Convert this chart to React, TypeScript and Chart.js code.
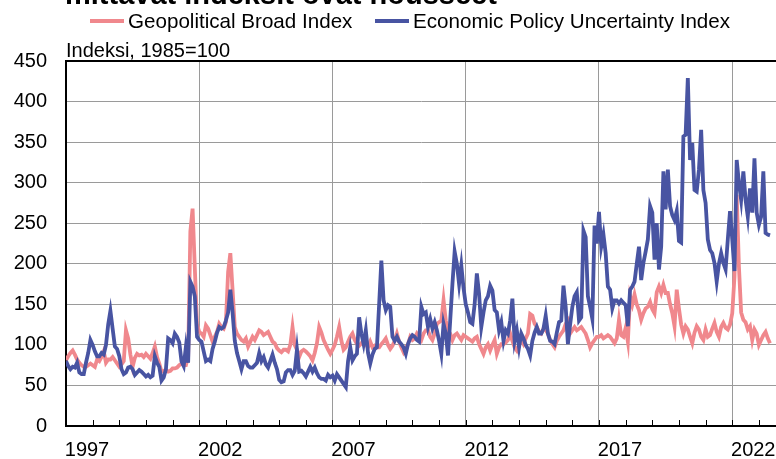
import React, { useEffect, useRef } from "react";
import { Chart, registerables } from "chart.js";

Chart.register(...registerables);

// ---------- data ----------
const START_YEAR = 1997; // monthly series, first point = Jan 1997
const X_TICK_YEARS = [1997, 2002, 2007, 2012, 2017, 2022];
const Y_TICKS = [0, 50, 100, 150, 200, 250, 300, 350, 400, 450];
const SERIES_LABELS = ["Geopolitical Broad Index", "Economic Policy Uncertainty Index"];
const TITLE = "mittavat indeksit ovat nousseet";
const Y_UNIT = "Indeksi, 1985=100";

// Geopolitical Risk (broad) index, monthly
const GPR_BROAD = [
  81, 86, 90, 93, 88, 82, 78, 75, 73, 73, 75, 77, // 1997
  75, 73, 82, 80, 85, 92, 78, 82, 82, 85, 81, 77, // 1998
  73, 76, 80, 118, 108, 88, 73, 84, 89, 87, 88, 85, // 1999
  89, 86, 83, 90, 98, 85, 77, 67, 68, 69, 67, 68, // 2000
  71, 71, 72, 75, 77, 75, 75, 85, 240, 268, 195, 125, // 2001
  116, 114, 110, 124, 120, 112, 104, 110, 116, 126, 122, 120, // 2002
  128, 190, 213, 168, 122, 114, 110, 106, 104, 108, 98, 104, // 2003
  110, 106, 112, 118, 116, 112, 114, 116, 110, 104, 102, 96, // 2004
  93, 91, 94, 94, 92, 100, 122, 100, 94, 85, 92, 94, // 2005
  92, 89, 86, 81, 90, 102, 122, 115, 106, 100, 94, 89, // 2006
  94, 100, 110, 122, 105, 94, 97, 104, 110, 114, 106, 101, // 2007
  99, 102, 106, 100, 97, 104, 97, 99, 97, 97, 101, 104, // 2008
  108, 100, 95, 99, 105, 114, 104, 97, 91, 96, 101, 110, // 2009
  106, 108, 114, 110, 106, 114, 118, 118, 110, 106, 114, 126, // 2010
  128, 130, 155, 130, 118, 114, 106, 112, 114, 110, 106, 112, // 2011
  110, 108, 106, 104, 108, 110, 101, 95, 89, 97, 101, 93, // 2012
  100, 106, 89, 97, 101, 101, 103, 106, 114, 105, 97, 93, // 2013
  100, 106, 101, 108, 114, 138, 136, 126, 122, 116, 114, 120, // 2014
  118, 114, 106, 101, 97, 105, 110, 114, 118, 126, 130, 114, // 2015
  118, 122, 118, 120, 122, 118, 114, 106, 97, 102, 106, 110, // 2016
  110, 112, 108, 110, 112, 110, 106, 102, 108, 131, 112, 110, // 2017
  121, 104, 160, 150, 162, 150, 143, 131, 139, 145, 147, 153, // 2018
  144, 139, 165, 172, 164, 174, 164, 164, 150, 139, 123, 168, // 2019
  145, 125, 114, 123, 119, 110, 102, 115, 123, 119, 110, 106, // 2020
  119, 110, 112, 120, 127, 116, 110, 122, 127, 121, 119, 125, // 2021
  139, 184, 285, 197, 140, 131, 128, 119, 123, 106, 119, 114, // 2022
  100, 106, 112, 116, 108, 102, // 2023
];

// Global Economic Policy Uncertainty index, monthly
const EPU = [
  80, 74, 70, 73, 72, 78, 66, 64, 64, 78, 90, 106, // 1997
  100, 92, 86, 86, 90, 88, 100, 125, 142, 120, 98, 95, // 1998
  86, 70, 64, 66, 72, 73, 70, 63, 66, 69, 67, 64, // 1999
  61, 63, 60, 62, 86, 78, 73, 56, 60, 70, 108, 106, // 2000
  102, 114, 110, 103, 80, 74, 98, 78, 178, 172, 160, 110, // 2001
  106, 104, 92, 80, 82, 80, 95, 104, 115, 122, 120, 122, // 2002
  130, 140, 168, 140, 105, 90, 80, 70, 80, 80, 74, 72, // 2003
  72, 75, 78, 90, 80, 85, 76, 72, 80, 88, 78, 70, // 2004
  57, 54, 55, 66, 69, 69, 63, 68, 94, 67, 68, 65, // 2005
  61, 67, 73, 67, 72, 65, 60, 58, 58, 56, 63, 60, // 2006
  62, 56, 64, 60, 56, 52, 48, 80, 97, 81, 86, 89, // 2007
  134, 114, 101, 118, 90, 77, 88, 95, 97, 150, 204, 155, // 2008
  143, 149, 147, 110, 105, 110, 104, 101, 97, 89, 101, 108, // 2009
  112, 110, 106, 104, 147, 138, 140, 122, 132, 120, 128, 118, // 2010
  105, 89, 126, 114, 87, 130, 175, 215, 200, 175, 198, 170, // 2011
  150, 140, 128, 126, 150, 188, 163, 122, 140, 155, 160, 173, // 2012
  167, 143, 140, 118, 128, 105, 118, 114, 130, 157, 105, 118, // 2013
  97, 114, 108, 100, 95, 87, 105, 115, 122, 114, 114, 120, // 2014
  136, 114, 105, 104, 101, 115, 128, 130, 173, 147, 101, 125, // 2015
  147, 160, 165, 130, 134, 241, 233, 160, 147, 132, 247, 225, // 2016
  264, 221, 236, 213, 172, 168, 145, 155, 155, 151, 155, 152, // 2017
  149, 123, 168, 172, 178, 200, 221, 180, 201, 215, 230, 271, // 2018
  263, 205, 250, 193, 221, 314, 267, 316, 271, 260, 254, 265, // 2019
  228, 226, 357, 359, 429, 328, 349, 291, 289, 316, 365, 291, // 2020
  275, 230, 217, 213, 201, 178, 200, 213, 201, 193, 230, 265, // 2021
  230, 191, 328, 300, 279, 314, 279, 258, 293, 263, 330, 263, // 2022
  248, 258, 314, 238, 236, 235, // 2023
];

// ---------- style ----------
const PINK = "rgb(240,136,141)";
const BLUE = "rgb(72,84,162)";
const FONT_FAMILY = "'Liberation Sans', Arial, sans-serif";
const X_MAX = 319.7; // months from Jan 1997 to right edge of plot

const toPoints = (arr: number[]) => arr.map((v, i) => ({ x: i, y: v }));

const decorPlugin = {
  id: "decor",
  beforeDatasetsDraw(chart: any) {
    const { ctx, chartArea, scales } = chart;
    const x = scales.x;
    ctx.save();
    ctx.strokeStyle = "#000";
    ctx.lineWidth = 1;
    const lastYear = START_YEAR + Math.floor(X_MAX / 12);
    for (let yr = START_YEAR + 1; yr <= lastYear; yr++) {
      const px = Math.round(x.getPixelForValue((yr - START_YEAR) * 12)) + 0.5;
      ctx.beginPath();
      ctx.moveTo(px, chartArea.bottom - 6);
      ctx.lineTo(px, chartArea.bottom);
      ctx.stroke();
    }
    ctx.restore();
  },
  afterDraw(chart: any) {
    const { ctx, chartArea } = chart;
    ctx.save();
    ctx.fillStyle = "#000";
    ctx.textBaseline = "alphabetic";
    ctx.textAlign = "left";
    // title (mostly cut off at the top edge)
    ctx.font = `bold 29px ${FONT_FAMILY}`;
    ctx.fillText(TITLE, 65, 4);
    // unit label
    ctx.font = `20px ${FONT_FAMILY}`;
    ctx.fillText(Y_UNIT, chartArea.left, 57);
    // legend
    ctx.font = `20.6px ${FONT_FAMILY}`;
    const starts = [90, 375];
    chart.data.datasets.forEach((ds: any, i: number) => {
      const x0 = starts[i];
      ctx.strokeStyle = ds.borderColor;
      ctx.lineWidth = 4;
      ctx.beginPath();
      ctx.moveTo(x0, 21);
      ctx.lineTo(x0 + 34, 21);
      ctx.stroke();
      ctx.fillStyle = "#000";
      ctx.fillText(ds.label, x0 + 38, 27.5);
    });
    ctx.restore();
  },
};

export default function App() {
  const canvasRef = useRef<HTMLCanvasElement | null>(null);

  useEffect(() => {
    if (!canvasRef.current) return;
    const font = { family: FONT_FAMILY, size: 20 };
    const chart = new Chart(canvasRef.current, {
      type: "line",
      data: {
        datasets: [
          {
            label: SERIES_LABELS[0],
            data: toPoints(GPR_BROAD),
            borderColor: PINK,
            backgroundColor: PINK,
            borderWidth: 3.8,
            pointRadius: 0,
            tension: 0,
            order: 1,
          },
          {
            label: SERIES_LABELS[1],
            data: toPoints(EPU),
            borderColor: BLUE,
            backgroundColor: BLUE,
            borderWidth: 3.8,
            pointRadius: 0,
            tension: 0,
            order: 0,
          },
        ],
      },
      options: {
        animation: false,
        responsive: false,
        layout: { padding: { top: 61, left: 0, right: 0, bottom: 0 } },
        plugins: {
          legend: { display: false },
          title: { display: false },
          tooltip: { enabled: false },
        },
        scales: {
          x: {
            type: "linear",
            min: 0,
            max: X_MAX,
            afterBuildTicks: (s: any) => {
              s.ticks = X_TICK_YEARS.map((y) => ({ value: (y - START_YEAR) * 12 }));
            },
            afterFit: (s: any) => {
              s.height = 33;
            },
            ticks: {
              font,
              color: "#000",
              padding: 12,
              labelOffset: 21,
              maxRotation: 0,
              autoSkip: false,
              callback: (v: any) => String(START_YEAR + Math.round(Number(v) / 12)),
            },
            grid: {
              drawTicks: false,
              color: (c: any) => (c.tick && c.tick.value === 0 ? "rgba(0,0,0,0)" : "#9a9a9a"),
              lineWidth: 1,
            },
            border: { color: "#000", width: 2 },
          },
          y: {
            min: 0,
            max: 450,
            afterBuildTicks: (s: any) => {
              s.ticks = Y_TICKS.map((v) => ({ value: v }));
            },
            afterFit: (s: any) => {
              s.width = 66;
            },
            ticks: { font, color: "#000", padding: 19 },
            grid: {
              drawTicks: false,
              color: (c: any) => (c.tick && c.tick.value === 450 ? "#000" : "#9a9a9a"),
              lineWidth: (c: any) => (c.tick && c.tick.value === 450 ? 2 : 1),
            },
            border: { color: "#000", width: 2 },
          },
        },
      },
      plugins: [decorPlugin],
    } as any);
    return () => chart.destroy();
  }, []);

  return (
    <div style={{ position: "fixed", left: 0, top: 0, width: 776, height: 459, background: "#fff" }}>
      <canvas ref={canvasRef} width={776} height={459} style={{ display: "block" }} />
    </div>
  );
}
